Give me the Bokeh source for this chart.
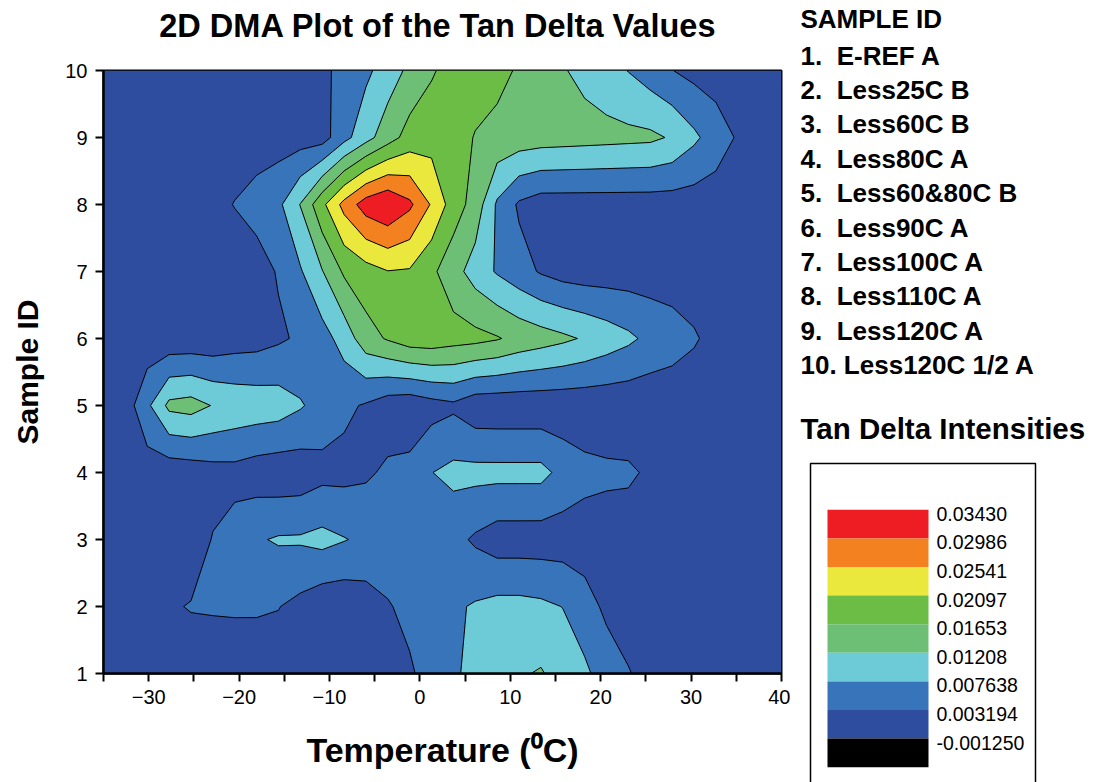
import numpy as np
from bokeh.plotting import figure
from bokeh.layouts import row, column
from bokeh.models import FixedTicker, Range1d
from bokeh.embed import file_html
from bokeh.resources import INLINE
from bokeh.core.properties import value

# ---------------- data ----------------
temperature_c = [-35.0, -32.58, -30.16, -27.74, -25.32, -22.90, -20.48, -18.06,
                 -15.65, -13.23, -10.81, -8.39, -5.97, -3.55, -1.13, 1.29,
                 3.71, 6.13, 8.55, 10.97, 13.39, 15.81, 18.23, 20.65,
                 23.06, 25.48, 27.90, 30.32, 32.74, 35.16, 37.58, 40.0]
sample_id = [1, 2, 3, 4, 5, 6, 7, 8, 9, 10]
sample_names = ["E-REF A", "Less25C B", "Less60C B", "Less80C A", "Less60&80C B",
                "Less90C A", "Less100C A", "Less110C A", "Less120C A", "Less120C 1/2 A"]

# tan delta x 1000, one list per sample (rows 1..10), one value per temperature
td_s1 = [0.97, 0.95, 1.00, 0.97, 0.93, 0.95, 0.97, 0.95, 0.97, 1.00, 0.97, 0.95, 0.97, 1.19, 2.53, 5.19,
         6.75, 9.42, 10.75, 11.64, 12.44, 10.30, 8.53, 5.42, 3.42, 1.86, 0.97, 0.95, 0.97, 0.97, 0.95, 0.97]
td_s2 = [0.97, 0.97, 1.19, 2.75, 3.42, 3.55, 3.64, 3.64, 3.33, 1.95, 0.22, 0.08, 1.02, 2.79, 4.53, 5.86,
         6.97, 8.08, 8.97, 8.97, 8.53, 7.55, 4.97, 2.31, 1.42, 0.97, 0.97, 0.95, 0.97, 0.97, 0.97, 0.97]
td_s3 = [0.97, 0.97, 0.97, 0.97, 0.75, 3.42, 4.97, 7.19, 8.08, 8.17, 8.97, 7.86, 6.75, 6.30, 5.86, 5.42,
         4.53, 2.53, 0.97, 0.97, 0.95, 0.97, 0.97, 0.97, 0.97, 0.97, 0.97, 0.97, 0.97, 0.97, 0.97, 0.97]
td_s4 = [0.97, 0.97, 0.97, 0.39, 0.75, 1.55, 1.77, 0.84, 0.35, 0.57, 1.82, 1.91, 2.53, 3.95, 4.57, 7.55,
         8.84, 8.97, 8.97, 8.97, 8.97, 6.30, 4.57, 4.04, 3.86, 2.53, 0.97, 0.97, 0.97, 0.97, 0.97, 0.97]
td_s5 = [0.53, 0.88, 6.66, 13.19, 13.86, 11.86, 10.75, 10.30, 9.86, 8.08, 5.86, 4.08, 2.75, 0.75, 0.08, 1.42,
         2.35, 0.22, 0.08, 0.08, 0.08, 0.08, 0.08, 0.08, 0.08, 0.08, 0.31, 0.53, 0.97, 0.97, 0.97, 0.97]
td_s6 = [0.97, 0.75, 0.35, 0.04, 0.08, 0.08, 1.02, 1.42, 2.53, 3.86, 5.86, 9.42, 14.75, 16.97, 18.97, 19.19,
         18.30, 17.86, 16.88, 15.19, 14.08, 12.97, 11.64, 10.08, 8.53, 6.53, 5.19, 3.64, 1.86, 1.19, 0.97, 0.97]
td_s7 = [0.97, 0.97, 0.97, 0.97, 0.97, 0.97, 0.97, 1.42, 3.55, 7.19, 11.86, 17.19, 19.19, 20.84, 20.53, 17.41,
         13.86, 10.08, 7.19, 4.97, 2.75, 1.42, 0.97, 0.97, 0.97, 0.97, 0.97, 0.97, 0.97, 0.97, 0.97, 0.97]
td_s8 = [0.97, 0.97, 0.97, 0.97, 0.97, 2.08, 3.33, 4.75, 6.66, 12.22, 19.86, 26.84, 32.08, 34.08, 30.75, 24.97,
         18.75, 14.75, 6.97, 2.53, 0.97, 0.97, 0.97, 0.97, 0.97, 0.97, 0.97, 0.97, 0.97, 0.97, 0.97, 0.97]
td_s9 = [1.19, 1.19, 1.19, 1.19, 1.19, 1.19, 1.19, 1.19, 1.19, 1.19, 1.33, 6.22, 10.48, 14.57, 18.30, 19.19,
         18.30, 16.30, 15.19, 14.53, 14.08, 13.86, 13.64, 13.42, 13.19, 12.97, 11.64, 8.53, 5.42, 2.75, 1.42, 0.97]
td_s10 = [1.19, 1.19, 1.19, 1.19, 1.19, 1.19, 1.19, 1.19, 1.19, 1.19, 2.26, 4.48, 6.70, 9.73, 13.10, 16.04,
          18.30, 18.53, 17.86, 15.99, 14.53, 12.39, 10.97, 9.42, 7.50, 5.42, 3.28, 1.86, 1.19, 0.97, 0.97, 0.97]

levels = [-0.001250, 0.003194, 0.007638, 0.01208, 0.01653, 0.02097, 0.02541, 0.02986, 0.03430]
level_labels = ["0.03430", "0.02986", "0.02541", "0.02097", "0.01653",
                "0.01208", "0.007638", "0.003194", "-0.001250"]
band_colors = ["#2E4D9F", "#3874B9", "#6CCBD7", "#6CBF74", "#6BBD45", "#EBE83D", "#F38120", "#EE1D23"]
legend_colors = ["#EE1D23", "#F38120", "#EBE83D", "#6BBD45", "#6CBF74", "#6CCBD7", "#3874B9", "#2E4D9F", "#000000"]

x_major_ticks = [-30, -20, -10, 0, 10, 20, 30, 40]
x_minor_ticks = [-35, -25, -15, -5, 5, 15, 25, 35]
title_text = "2D DMA Plot of the Tan Delta Values"

Z = np.array([td_s1, td_s2, td_s3, td_s4, td_s5, td_s6, td_s7, td_s8, td_s9, td_s10]) / 1000.0

FONT = "Liberation Sans"

# ---------------- title strip ----------------
title_fig = figure(width=790, height=56, x_range=Range1d(-35, 40), y_range=Range1d(0, 56),
                   output_backend="svg", toolbar_location=None,
                   min_border_left=103, min_border_right=9, min_border_top=0, min_border_bottom=0,
                   x_axis_location=None, y_axis_location=None, outline_line_color=None)
title_fig.grid.visible = False
title_fig.text(x=[2.0], y=[31], text=[title_text], text_font=value(FONT),
               text_font_size=value("32.5px"), text_font_style="bold",
               text_align="center", text_baseline="middle", text_color="black")

# ---------------- main plot ----------------
p = figure(width=790, height=726, x_range=Range1d(-35, 40), y_range=Range1d(1, 10),
           output_backend="svg", toolbar_location=None,
           min_border_left=103, min_border_right=9, min_border_top=14, min_border_bottom=109)
p.xgrid.visible = False
p.ygrid.visible = False
p.background_fill_color = band_colors[0]
p.outline_line_color = "black"
p.outline_line_width = 2

p.contour(x=temperature_c, y=sample_id, z=Z, levels=levels,
          fill_color=band_colors, line_color="black", line_width=1)

p.xaxis.ticker = FixedTicker(ticks=x_major_ticks, minor_ticks=x_minor_ticks)
p.yaxis.ticker = FixedTicker(ticks=sample_id)
for ax in (p.xaxis[0], p.yaxis[0]):
    ax.axis_line_width = 2.5
    ax.axis_line_color = "black"
    ax.major_tick_line_width = 2
    ax.major_tick_in = 0
    ax.major_tick_out = 8
    ax.minor_tick_in = 0
    ax.minor_tick_out = 8
    ax.minor_tick_line_width = 2
    ax.major_label_text_font = FONT
    ax.major_label_text_font_size = "20px"
    ax.major_label_text_color = "black"
    ax.axis_label_text_font = FONT
    ax.axis_label_text_font_style = "bold"
    ax.axis_label_text_color = "black"
p.yaxis.minor_tick_line_color = None
p.xaxis.axis_label = "Temperature (\u2070C)"
p.xaxis.axis_label_text_font_size = "34px"
p.xaxis.axis_label_standoff = 24
p.xaxis.major_label_standoff = 8
p.yaxis.axis_label = "Sample ID"
p.yaxis.axis_label_text_font_size = "30px"
p.yaxis.axis_label_standoff = 18
p.yaxis.major_label_standoff = 8

# ---------------- side panel (legend texts and colour key) ----------------
side = figure(width=306, height=782, x_range=Range1d(0, 306), y_range=Range1d(782, 0),
              output_backend="svg", toolbar_location=None, min_border=0,
              x_axis_location=None, y_axis_location=None, outline_line_color=None)
side.grid.visible = False

list_text = ["SAMPLE ID"] + [f"{i}.\u00a0\u00a0{n}" if i < 10 else f"{i}.\u00a0{n}"
                             for i, n in zip(sample_id, sample_names)]
list_y = [18] + [55 + 34.4 * (i - 1) for i in sample_id]
side.text(x=[10] * len(list_text), y=list_y, text=list_text,
          text_font=value(FONT), text_font_size=value("26px"), text_font_style="bold",
          text_baseline="middle", text_align="left", text_color="black")

side.text(x=[10], y=[428], text=["Tan Delta Intensities"],
          text_font=value(FONT), text_font_size=value("29.5px"), text_font_style="bold",
          text_baseline="middle", text_align="left", text_color="black")

# key frame
side.quad(left=[20], right=[245], top=[463], bottom=[800],
          fill_color=None, line_color="black", line_width=1.5)
box_h = 28.6
tops = [509.3 + i * box_h for i in range(len(legend_colors))]
bottoms = [t + box_h for t in tops]
side.quad(left=37, right=138, top=tops, bottom=bottoms,
          fill_color=legend_colors, line_color=None)
side.text(x=[146] * len(level_labels), y=[t + 4 for t in tops], text=level_labels,
          text_font=value(FONT), text_font_size=value("19.5px"),
          text_baseline="middle", text_align="left", text_color="black")

layout = row(column(title_fig, p), column(side))
open("out.html", "w").write(file_html(layout, INLINE))
